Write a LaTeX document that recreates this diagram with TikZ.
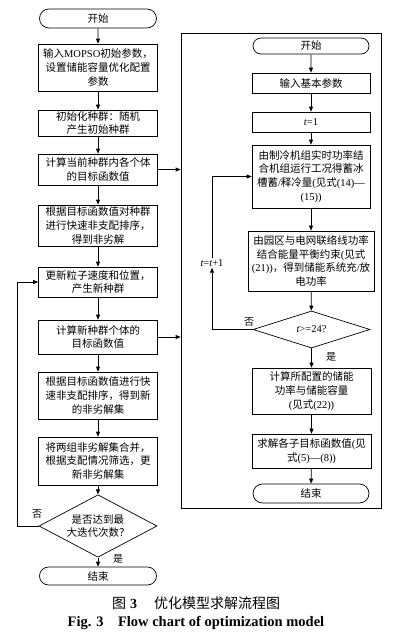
\documentclass[tikz,border=0pt]{standalone}
\usepackage{fontspec}
\setmainfont{Liberation Serif}
\newfontfamily\cjk{Noto Sans CJK SC}
\usetikzlibrary{shapes,arrows.meta,positioning,calc}
\newcommand{\en}[1]{{\rmfamily #1}}
\newcommand{\tv}{{\rmfamily\itshape t}}

\begin{document}
\begin{tikzpicture}[x=1pt,y=-1pt]
  \tikzstyle{box}=[rectangle, draw, line width=0.7pt, minimum width=119pt, align=center, inner sep=1pt, font=\cjk\fontsize{10.5}{13.8}\selectfont]
  \tikzstyle{term}=[box, rounded rectangle]
  \tikzstyle{dec}=[diamond, draw, line width=0.7pt, inner sep=-6pt, align=center, font=\cjk\fontsize{10.5}{13.8}\selectfont]
  \tikzstyle{flow}=[-{Triangle[length=5pt,width=4pt]}, line width=0.7pt]
  \tikzstyle{lab}=[font=\cjk\fontsize{10}{12}\selectfont, inner sep=1pt]

  \useasboundingbox (0,0) rectangle (401,640);

  % Outer loop (MOPSO)
  \node[term, minimum height=19pt] (ls) at (98,18.5) {开始};
  \node[box, minimum height=47pt] (l1) at (98,67.5) {输入\en{MOPSO}初始参数，\\设置储能容量优化配置\\参数};
  \node[box, minimum height=26pt] (l2) at (98,123) {初始化种群：随机\\产生初始种群};
  \node[box, minimum height=31pt] (l3) at (98,169.5) {计算当前种群内各个体\\的目标函数值};
  \node[box, minimum height=41pt] (l4) at (98,225.5) {根据目标函数值对种群\\进行快速非支配排序，\\得到非劣解};
  \node[box, minimum height=30pt] (l5) at (98,282) {更新粒子速度和位置，\\产生新种群};
  \node[box, minimum height=34pt] (l6) at (98,337) {计算新种群个体的\\目标函数值};
  \node[box, minimum height=47pt] (l7) at (98,395.5) {根据目标函数值进行快\\速非支配排序，得到新\\的非劣解集};
  \node[box, minimum height=48pt] (l8) at (98,461) {将两组非劣解集合并，\\根据支配情况筛选，更\\新非劣解集};
  \node[dec, minimum width=118pt, minimum height=44pt] (ld) at (98,526) {是否达到最\\大迭代次数？};
  \node[term, minimum height=18pt] (le) at (98,576) {结束};

  % Inner loop (hourly storage calculation)
  \node[draw, line width=0.7pt, minimum width=200pt, minimum height=475pt] (frame) at (281,270.5) {};
  \node[term, minimum width=118pt, minimum height=16pt] (rs) at (311,46) {开始};
  \node[box, minimum width=118pt, minimum height=20pt] (r1) at (311,83) {输入基本参数};
  \node[box, minimum width=118pt, minimum height=20pt] (r2) at (311,122) {\tv\en{=1}};
  \node[box, minimum width=118pt, minimum height=63pt] (r3) at (311,176.5) {由制冷机组实时功率结\\合机组运行工况得蓄冰\\槽蓄\en{/}释冷量\en{(}见式\en{(14)—}\\\en{(15))}};
  \node[box, minimum width=126pt, minimum height=60pt] (r4) at (311,261) {由园区与电网联络线功率\\结合能量平衡约束\en{(}见式\\\en{(21))}，得到储能系统充\en{/}放\\电功率};
  \node[dec, minimum width=117pt, minimum height=37pt, inner sep=0pt] (rd) at (311.5,329.5) {\tv\en{>=24?}};
  \node[box, minimum width=119pt, minimum height=46pt] (r5) at (311.5,391) {计算所配置的储能\\功率与储能容量\\\en{(}见式\en{(22))}};
  \node[box, minimum width=119pt, minimum height=34pt] (r6) at (311.5,451) {求解各子目标函数值\en{(}见\\式\en{(5)—(8))}};
  \node[term, minimum width=118pt, minimum height=19pt] (re) at (311,493.5) {结束};
  \node[lab, fill=white, font=\rmfamily\fontsize{10.5}{12}\selectfont] (inc) at (212,263) {\tv\en{=}\tv\en{+1}};

  % Labels
  \node[lab] (no1) at (37,514) {否};
  \node[lab] (yes1) at (118,559) {是};
  \node[lab] (no2) at (249,322) {否};
  \node[lab] (yes2) at (331,357) {是};

  % Main flow
  \draw[flow] (ls) -- (l1);
  \draw[flow] (l1) -- (l2);
  \draw[flow] (l2) -- (l3);
  \draw[flow] (l3) -- (l4);
  \draw[flow] (l4) -- (l5);
  \draw[flow] (l5) -- (l6);
  \draw[flow] (l6) -- (l7);
  \draw[flow] (l7) -- (l8);
  \draw[flow] (l8) -- (ld);
  \draw[flow] (ld) -- (le);
  \coordinate (lp) at (17,526);
  \draw[flow] (ld.west) -- (lp) |- (l5.west);

  % Calls into the inner model
  \draw[flow] (l3.east) -- (l3.east -| frame.west);
  \draw[flow] (l6.east) -- (l6.east -| frame.west);

  % Inner flow
  \draw[flow] (rs) -- (r1);
  \draw[flow] (r1) -- (r2);
  \draw[flow] (r2) -- (r3);
  \draw[flow] (r3) -- (r4);
  \draw[flow] (r4) -- (rd);
  \draw[flow] (rd) -- (r5);
  \draw[flow] (r5) -- (r6);
  \draw[flow] (r6) -- (re);
  \draw[flow] (rd.west) -| (inc.south);
  \draw[flow] (inc.north) |- (r3.west);

  % Caption
  \node[font=\cjk\fontsize{14}{16}\selectfont] (cap1) at (196,603) {图\hspace{0.3em}\en{\bfseries 3}\hspace{1.2em}优化模型求解流程图};
  \node[font=\rmfamily\bfseries\fontsize{14.5}{16}\selectfont] (cap2) at (196,623) {Fig. 3\hspace{1em}Flow chart of optimization model};
\end{tikzpicture}
\end{document}
